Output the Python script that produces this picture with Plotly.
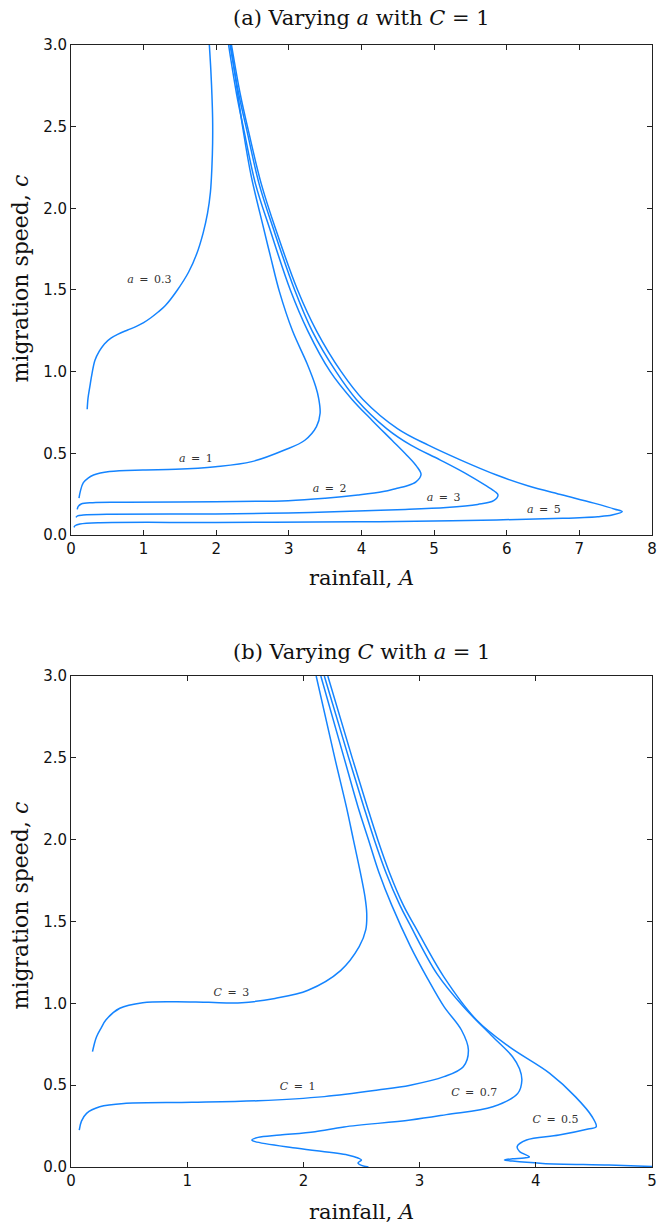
import plotly.graph_objects as go
from plotly.subplots import make_subplots

# ---------------- Panel (a): varying a with C = 1 ----------------
a03_x = [0.223, 0.235, 0.26, 0.29, 0.33, 0.39, 0.46, 0.55, 0.65, 0.78, 0.90, 1.00, 1.10, 1.20, 1.30, 1.465, 1.62, 1.73, 1.82, 1.88, 1.92, 1.94, 1.95, 1.95, 1.94, 1.925, 1.905]
a03_y = [0.77, 0.84, 0.91, 0.99, 1.07, 1.125, 1.17, 1.205, 1.23, 1.255, 1.277, 1.30, 1.33, 1.365, 1.405, 1.50, 1.61, 1.72, 1.85, 1.97, 2.10, 2.25, 2.40, 2.55, 2.70, 2.85, 3.00]

a1_x = [0.11, 0.13, 0.17, 0.24, 0.31, 0.53, 0.99, 1.44, 1.99, 2.49, 2.94, 3.22, 3.38, 3.43, 3.41, 3.37, 3.25, 3.05, 2.87, 2.75, 2.64, 2.48, 2.37, 2.28, 2.20]
a1_y = [0.225, 0.27, 0.32, 0.35, 0.367, 0.388, 0.398, 0.402, 0.418, 0.449, 0.52, 0.58, 0.663, 0.745, 0.837, 0.908, 1.05, 1.25, 1.49, 1.70, 1.90, 2.20, 2.48, 2.75, 3.00]

a2_x = [0.086, 0.10, 0.14, 0.30, 0.76, 1.99, 2.99, 3.50, 3.95, 4.30, 4.49, 4.62, 4.75, 4.82, 4.76, 4.62, 4.42, 4.15, 3.87, 3.57, 3.26, 3.02, 2.74, 2.54, 2.38, 2.28, 2.17]
a2_y = [0.157, 0.175, 0.19, 0.198, 0.20, 0.204, 0.21, 0.225, 0.245, 0.266, 0.286, 0.300, 0.325, 0.37, 0.42, 0.49, 0.58, 0.70, 0.83, 1.00, 1.25, 1.50, 1.87, 2.15, 2.48, 2.70, 3.00]

a3_x = [0.068, 0.09, 0.168, 0.53, 1.99, 2.99, 3.95, 4.49, 5.17, 5.60, 5.82, 5.88, 5.84, 5.72, 5.42, 5.08, 4.68, 4.35, 3.93, 3.65, 3.32, 3.08, 2.79, 2.59, 2.42, 2.31, 2.19]
a3_y = [0.108, 0.117, 0.122, 0.127, 0.129, 0.135, 0.147, 0.155, 0.168, 0.187, 0.21, 0.245, 0.265, 0.30, 0.38, 0.46, 0.55, 0.65, 0.83, 1.00, 1.25, 1.50, 1.87, 2.15, 2.48, 2.70, 3.00]

a5_x = [0.041, 0.06, 0.123, 0.40, 1.99, 3.95, 4.49, 5.86, 6.77, 7.25, 7.45, 7.59, 7.49, 7.20, 6.77, 6.30, 5.86, 5.36, 4.92, 4.50, 4.02, 3.72, 3.38, 3.12, 2.82, 2.62, 2.44, 2.33, 2.21]
a5_y = [0.047, 0.058, 0.067, 0.075, 0.077, 0.081, 0.082, 0.092, 0.102, 0.112, 0.122, 0.143, 0.158, 0.195, 0.245, 0.30, 0.367, 0.46, 0.55, 0.65, 0.83, 1.00, 1.25, 1.50, 1.87, 2.15, 2.48, 2.70, 3.00]

labels_a_text = ["<i>a</i>\u2002=\u20020.3", "<i>a</i>\u2002=\u20021", "<i>a</i>\u2002=\u20022", "<i>a</i>\u2002=\u20023", "<i>a</i>\u2002=\u20025"]
labels_a_x = [1.08, 1.72, 3.56, 5.13, 6.51]
labels_a_y = [1.56, 0.465, 0.28, 0.225, 0.153]

# ---------------- Panel (b): varying C with a = 1 ----------------
c3_x = [0.185, 0.20, 0.22, 0.26, 0.30, 0.42, 0.617, 0.90, 1.186, 1.47, 1.755, 2.04, 2.32, 2.48, 2.537, 2.545, 2.53, 2.49, 2.43, 2.37, 2.27, 2.11]
c3_y = [0.705, 0.75, 0.796, 0.85, 0.898, 0.97, 1.004, 1.01, 1.006, 1.004, 1.03, 1.08, 1.20, 1.346, 1.45, 1.55, 1.65, 1.80, 2.00, 2.20, 2.50, 3.00]

c1_x = [0.071, 0.09, 0.134, 0.247, 0.475, 1.04, 1.61, 2.18, 2.64, 2.92, 3.21, 3.376, 3.42, 3.36, 3.21, 3.07, 2.92, 2.76, 2.65, 2.56, 2.47, 2.35, 2.15]
c1_y = [0.226, 0.28, 0.328, 0.368, 0.389, 0.395, 0.405, 0.43, 0.47, 0.50, 0.552, 0.613, 0.715, 0.837, 0.98, 1.15, 1.35, 1.60, 1.80, 2.00, 2.20, 2.50, 3.00]

c07_x = [2.18, 2.39, 2.52, 2.61, 2.71, 2.83, 2.91, 3.15, 3.376, 3.63, 3.80, 3.86, 3.88, 3.845, 3.63, 3.23, 2.92, 2.35, 2.10, 1.80, 1.61, 1.556, 1.585, 1.95, 2.38, 2.47, 2.50, 2.47, 2.50, 2.56]
c07_y = [3.00, 2.50, 2.20, 2.00, 1.80, 1.60, 1.49, 1.18, 0.98, 0.796, 0.674, 0.60, 0.53, 0.45, 0.368, 0.32, 0.287, 0.245, 0.216, 0.195, 0.181, 0.165, 0.155, 0.114, 0.073, 0.055, 0.043, 0.025, 0.010, 0.000]

c05_x = [2.21, 2.42, 2.55, 2.64, 2.74, 2.86, 2.96, 3.21, 3.49, 3.77, 4.12, 4.34, 4.485, 4.52, 4.45, 4.20, 3.92, 3.84, 3.86, 3.945, 3.90, 3.80, 3.73, 3.80, 4.06, 4.63, 5.00]
c05_y = [3.00, 2.50, 2.20, 2.00, 1.80, 1.60, 1.47, 1.16, 0.898, 0.735, 0.572, 0.43, 0.307, 0.246, 0.232, 0.195, 0.165, 0.125, 0.095, 0.062, 0.055, 0.050, 0.043, 0.036, 0.022, 0.012, 0.003]

labels_c_text = ["<i>C</i>\u2002=\u20023", "<i>C</i>\u2002=\u20021", "<i>C</i>\u2002=\u20020.7", "<i>C</i>\u2002=\u20020.5"]
labels_c_x = [1.38, 1.95, 3.47, 4.17]
labels_c_y = [1.063, 0.489, 0.452, 0.287]

# ticks
xticks_a = [0, 1, 2, 3, 4, 5, 6, 7, 8]
xticks_b = [0, 1, 2, 3, 4, 5]
yticks = [0.0, 0.5, 1.0, 1.5, 2.0, 2.5, 3.0]
ytick_text = ["0.0", "0.5", "1.0", "1.5", "2.0", "2.5", "3.0"]

LINE = "#1484FF"
SERIF = "DejaVu Serif"

fig = make_subplots(rows=2, cols=1)

line_style = dict(color=LINE, width=1.5, shape="spline", smoothing=1.0)
for xs, ys in [(a03_x, a03_y), (a1_x, a1_y), (a2_x, a2_y), (a3_x, a3_y), (a5_x, a5_y)]:
    fig.add_trace(go.Scatter(x=xs, y=ys, mode="lines", line=line_style, hoverinfo="skip"), row=1, col=1)
for xs, ys in [(c3_x, c3_y), (c1_x, c1_y), (c07_x, c07_y), (c05_x, c05_y)]:
    fig.add_trace(go.Scatter(x=xs, y=ys, mode="lines", line=line_style, hoverinfo="skip"), row=2, col=1)

lab_font = dict(family=SERIF, size=11, color="#333")
fig.add_trace(go.Scatter(x=labels_a_x, y=labels_a_y, mode="text", text=labels_a_text,
                         textfont=lab_font, hoverinfo="skip"), row=1, col=1)
fig.add_trace(go.Scatter(x=labels_c_x, y=labels_c_y, mode="text", text=labels_c_text,
                         textfont=lab_font, hoverinfo="skip"), row=2, col=1)

axis_common = dict(showline=True, linecolor="#222", linewidth=1, mirror="allticks", ticks="inside",
                   ticklen=5, tickcolor="#222", showgrid=False, zeroline=False,
                   tickfont=dict(family="DejaVu Sans", size=15, color="#111"))

fig.update_xaxes(range=[0, 8], tickvals=xticks_a, domain=[0, 1], **axis_common, row=1, col=1)
fig.update_xaxes(range=[0, 5], tickvals=xticks_b, domain=[0, 1], **axis_common, row=2, col=1)
fig.update_yaxes(range=[0, 3], tickvals=yticks, ticktext=ytick_text, domain=[0.5633, 1.0], **axis_common, row=1, col=1)
fig.update_yaxes(range=[0, 3], tickvals=yticks, ticktext=ytick_text, domain=[0.0, 0.4376], **axis_common, row=2, col=1)

tfont = dict(family=SERIF, size=21, color="#111")
yfont = dict(family=SERIF, size=22, color="#111")
base = dict(xref="paper", yref="paper", showarrow=False, xanchor="center", yanchor="middle")
annots = [
    dict(text="(a) Varying <i>a</i> with <i>C</i> = 1", x=0.5, y=1.024, font=tfont, **base),
    dict(text="(b) Varying <i>C</i> with <i>a</i> = 1", x=0.5, y=0.459, font=tfont, **base),
    dict(text="rainfall, <i>A</i>", x=0.5, y=0.525, font=tfont, **base),
    dict(text="rainfall, <i>A</i>", x=0.5, y=-0.040, font=tfont, **base),
    dict(text="migration speed, <i>c</i>", x=-0.087, y=0.7923, font=yfont, textangle=-90, **base),
    dict(text="migration speed, <i>c</i>", x=-0.087, y=0.2335, font=yfont, textangle=-90, **base),
]

fig.update_layout(width=662, height=1223, margin=dict(l=71, r=5, t=45, b=56),
                  paper_bgcolor="white", plot_bgcolor="white", showlegend=False, annotations=annots)

fig.write_html("out.html", config={"displayModeBar": False},
               post_script="document.body.style.margin='0px';document.body.style.padding='0px';")
